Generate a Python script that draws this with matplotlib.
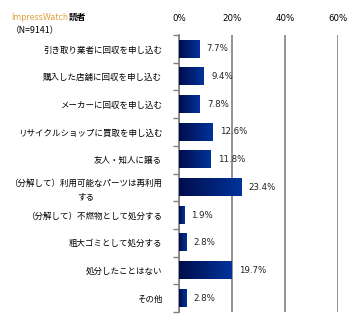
import matplotlib
matplotlib.use("Agg")
import matplotlib.pyplot as plt
import numpy as np
from matplotlib.colors import LinearSegmentedColormap

plt.rcParams['font.family'] = ['Noto Sans CJK JP', 'DejaVu Sans']

# data
labels = ["引き取り業者に回収を申し込む",
          "購入した店舗に回収を申し込む",
          "メーカーに回収を申し込む",
          "リサイクルショップに買取を申し込む",
          "友人・知人に譲る",
          "（分解して）利用可能なパーツは再利用\nする",
          "（分解して）不燃物として処分する",
          "粗大ゴミとして処分する",
          "処分したことはない",
          "その他"]
values = [7.7, 9.4, 7.8, 12.6, 11.8, 23.4, 1.9, 2.8, 19.7, 2.8]
xticks = [0, 20, 40, 60]

fig = plt.figure(figsize=(3.62, 3.28), dpi=100)
ax = fig.add_axes([0.494, 0.049, 0.44, 0.844])

n = len(values)
y = np.arange(n)
bars = ax.barh(y, values, height=0.62, color='none')

# horizontal gradient dark navy -> blue
cmap = LinearSegmentedColormap.from_list("g", ["#000d4d", "#00339a"])
grad = np.linspace(0, 1, 64).reshape(1, -1)
for b in bars:
    x0, y0 = b.get_x(), b.get_y()
    ax.imshow(grad, cmap=cmap, aspect='auto', extent=(x0, x0 + b.get_width(), y0, y0 + b.get_height()),
              zorder=3, interpolation='bilinear')

for yi, v in zip(y, values):
    ax.text(v + 2.8, yi, f"{v}%", va='center', ha='left', fontsize=6.2, family='DejaVu Sans', color='#222222')

ax.set_xlim(0, 60)
ax.set_ylim(n - 0.5, -0.5)
ax.set_xticks(xticks)
ax.set_xticklabels([f"{t}%" for t in xticks], fontsize=6.2, family='DejaVu Sans')
ax.xaxis.tick_top()
ax.tick_params(axis='x', length=0, pad=9)
ax.grid(axis='x', color='#808080', lw=1.2, zorder=1)

ax.set_yticks(y)
ax.set_yticklabels(labels, fontsize=6.1, multialignment='center', linespacing=1.5)
ax.set_yticks(np.arange(-0.5, n, 1), minor=True)
ax.tick_params(axis='y', which='major', length=0, pad=12)
ax.tick_params(axis='y', which='minor', length=4, color='#808080', width=1)

for s in ['top', 'right', 'bottom']:
    ax.spines[s].set_visible(False)
ax.spines['left'].set_color('#808080')
ax.spines['left'].set_linewidth(1.2)

# title: coloured brand name followed by black text
t1 = fig.text(0.03, 0.94, "ImpressWatch", fontsize=5.8, color='#e0a040', family='DejaVu Sans')
ax.annotate("読者", xy=(1, 0), xycoords=t1, xytext=(0.5, 0), textcoords='offset points',
            fontsize=6.3, weight='bold', va='bottom', ha='left', annotation_clip=False)
fig.text(0.03, 0.9, "（N=9141）", fontsize=6.3, color='black')

fig.savefig("out.png", dpi=100)
